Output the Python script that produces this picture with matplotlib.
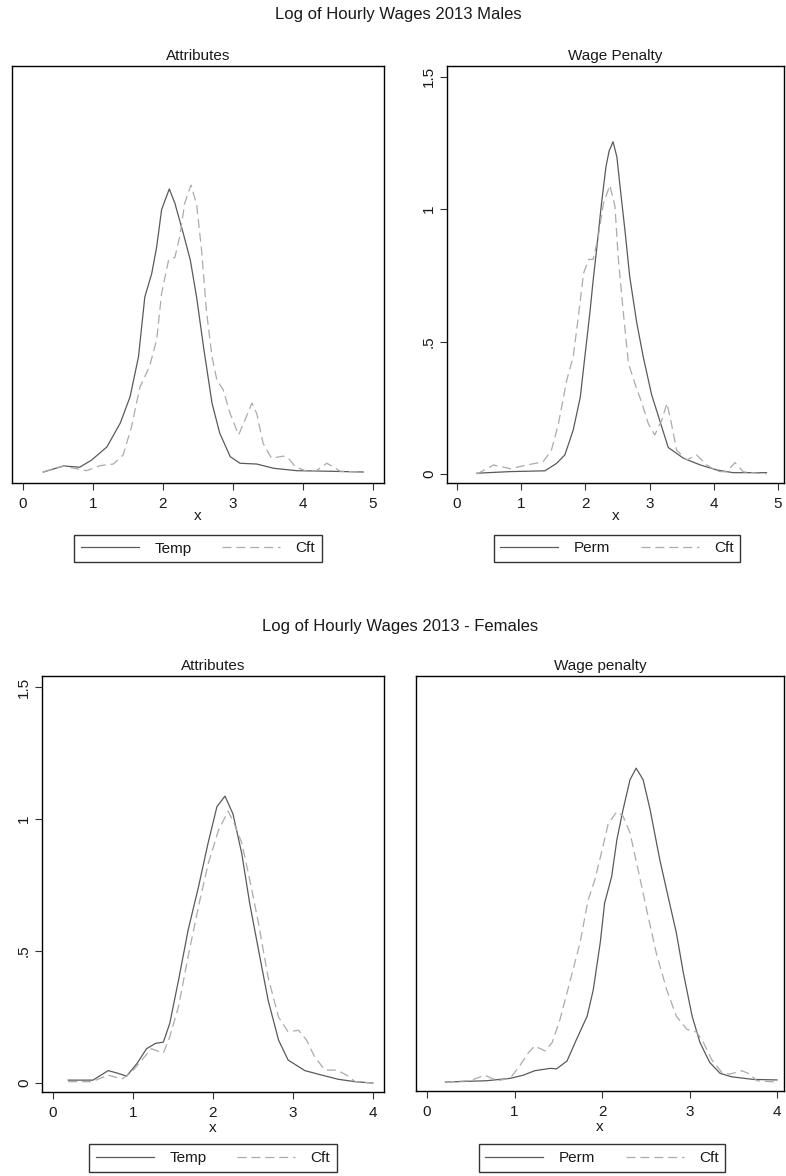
import matplotlib
matplotlib.use("Agg")
import matplotlib.pyplot as plt
from matplotlib.lines import Line2D

plt.rcParams['font.family'] = ['Liberation Sans', 'DejaVu Sans']
plt.rcParams['lines.scale_dashes'] = False

# ---------------- data ----------------
# Males, Attributes panel
m_att_temp_x = [0.29, 0.58, 0.81, 0.98, 1.20, 1.39, 1.53, 1.65, 1.74, 1.84, 1.91, 1.98, 2.09, 2.17,
                2.29, 2.39, 2.48, 2.58, 2.70, 2.81, 2.96, 3.10, 3.34, 3.58, 3.91, 4.34, 4.86]
m_att_temp_y = [0.0, 0.023, 0.018, 0.045, 0.095, 0.185, 0.284, 0.435, 0.66, 0.75, 0.85, 0.99, 1.068, 1.014,
                0.90, 0.80, 0.66, 0.47, 0.26, 0.147, 0.058, 0.033, 0.03, 0.014, 0.005, 0.003, 0.0]
m_att_cft_x = [0.29, 0.58, 0.91, 1.10, 1.29, 1.43, 1.55, 1.67, 1.81, 1.91, 1.98, 2.08, 2.17, 2.24, 2.31,
               2.40, 2.48, 2.55, 2.62, 2.70, 2.77, 2.86, 2.96, 3.08, 3.17, 3.27, 3.34, 3.43, 3.55, 3.72,
               3.79, 3.89, 4.05, 4.19, 4.34, 4.43, 4.53, 4.86]
m_att_cft_y = [0.0, 0.022, 0.005, 0.024, 0.03, 0.064, 0.17, 0.32, 0.40, 0.50, 0.674, 0.80, 0.81, 0.89, 1.014,
               1.083, 1.01, 0.84, 0.61, 0.435, 0.347, 0.31, 0.22, 0.14, 0.196, 0.26, 0.22, 0.108, 0.052, 0.06,
               0.052, 0.02, 0.003, 0.005, 0.033, 0.02, 0.003, 0.0]

# Males, Wage Penalty panel
m_pen_perm_x = [0.31, 0.83, 1.37, 1.55, 1.68, 1.81, 1.92, 1.99, 2.07, 2.12, 2.18, 2.25, 2.32, 2.37, 2.43,
                2.49, 2.54, 2.62, 2.69, 2.80, 2.90, 3.03, 3.16, 3.29, 3.53, 3.79, 4.05, 4.30, 4.82]
m_pen_perm_y = [0.003, 0.009, 0.012, 0.04, 0.072, 0.166, 0.29, 0.44, 0.61, 0.73, 0.86, 1.02, 1.16, 1.22, 1.254,
                1.197, 1.084, 0.91, 0.745, 0.57, 0.443, 0.30, 0.20, 0.10, 0.059, 0.034, 0.015, 0.005, 0.005]
m_pen_cft_x = [0.31, 0.57, 0.83, 1.09, 1.34, 1.47, 1.58, 1.71, 1.81, 1.89, 1.97, 2.05, 2.12, 2.20, 2.28,
               2.38, 2.46, 2.51, 2.59, 2.67, 2.77, 2.88, 2.98, 3.08, 3.19, 3.27, 3.34, 3.42, 3.58, 3.73,
               3.89, 4.05, 4.20, 4.33, 4.46, 4.82]
m_pen_cft_y = [0.0, 0.034, 0.02, 0.034, 0.046, 0.09, 0.19, 0.355, 0.443, 0.594, 0.757, 0.81, 0.81, 0.896, 1.02,
               1.09, 1.01, 0.82, 0.61, 0.418, 0.342, 0.267, 0.19, 0.147, 0.204, 0.267, 0.19, 0.09, 0.053, 0.072,
               0.034, 0.01, 0.008, 0.043, 0.008, 0.0]

# Females, Attributes panel
f_att_temp_x = [0.19, 0.50, 0.69, 0.80, 0.92, 1.05, 1.17, 1.28, 1.38, 1.46, 1.57, 1.69, 1.82, 1.94, 2.05,
                2.15, 2.25, 2.36, 2.46, 2.57, 2.69, 2.82, 2.94, 3.15, 3.36, 3.57, 3.78, 4.0]
f_att_temp_y = [0.011, 0.011, 0.047, 0.038, 0.026, 0.074, 0.13, 0.15, 0.155, 0.226, 0.39, 0.58, 0.744, 0.91, 1.047,
                1.087, 1.02, 0.87, 0.68, 0.504, 0.314, 0.163, 0.087, 0.047, 0.03, 0.014, 0.005, 0.0]
f_att_cft_x = [0.19, 0.49, 0.69, 0.86, 0.98, 1.11, 1.23, 1.32, 1.38, 1.46, 1.57, 1.69, 1.82, 1.94, 2.07,
               2.19, 2.27, 2.36, 2.46, 2.57, 2.69, 2.82, 2.94, 3.07, 3.17, 3.27, 3.40, 3.55, 3.67, 3.78, 4.0]
f_att_cft_y = [0.005, 0.005, 0.03, 0.015, 0.04, 0.087, 0.13, 0.12, 0.114, 0.175, 0.29, 0.48, 0.67, 0.83, 0.958,
               1.03, 0.98, 0.91, 0.77, 0.605, 0.40, 0.25, 0.194, 0.20, 0.163, 0.10, 0.049, 0.049, 0.03, 0.005, 0.0]

# Females, Wage penalty panel
f_pen_perm_x = [0.21, 0.68, 0.95, 1.10, 1.23, 1.41, 1.48, 1.60, 1.71, 1.83, 1.90, 1.98, 2.03, 2.11, 2.17,
                2.24, 2.32, 2.39, 2.47, 2.55, 2.66, 2.78, 2.85, 2.93, 3.03, 3.12, 3.23, 3.35, 3.48, 3.73, 4.0]
f_pen_perm_y = [0.0, 0.005, 0.014, 0.026, 0.043, 0.052, 0.05, 0.08, 0.163, 0.25, 0.35, 0.53, 0.68, 0.78, 0.92,
                1.034, 1.148, 1.192, 1.148, 1.034, 0.845, 0.668, 0.566, 0.414, 0.25, 0.15, 0.075, 0.033, 0.02, 0.01, 0.008]
f_pen_cft_x = [0.21, 0.49, 0.66, 0.80, 0.95, 1.06, 1.16, 1.23, 1.35, 1.43, 1.52, 1.63, 1.75, 1.84, 1.92,
               2.00, 2.07, 2.17, 2.24, 2.32, 2.42, 2.51, 2.62, 2.74, 2.85, 2.97, 3.08, 3.16, 3.25, 3.37,
               3.46, 3.60, 3.69, 3.77, 4.0]
f_pen_cft_y = [0.0, 0.005, 0.026, 0.005, 0.014, 0.062, 0.112, 0.137, 0.118, 0.15, 0.238, 0.377, 0.53, 0.69, 0.77,
               0.88, 0.98, 1.027, 1.01, 0.946, 0.795, 0.655, 0.49, 0.35, 0.25, 0.20, 0.19, 0.15, 0.087, 0.036,
               0.03, 0.043, 0.03, 0.005, 0.0]

male_title = "Log of Hourly Wages 2013 Males"
female_title = "Log of Hourly Wages 2013 - Females"
panel_titles = ["Attributes", "Wage Penalty", "Attributes", "Wage penalty"]
legend_labels = [["Temp", "Cft"], ["Perm", "Cft"], ["Temp", "Cft"], ["Perm", "Cft"]]
yticks = [0, 0.5, 1, 1.5]
yticklabels = ["0", ".5", "1", "1.5"]
xticks_m = [0, 1, 2, 3, 4, 5]
xticks_f = [0, 1, 2, 3, 4]

# ---------------- layout ----------------
W, H = 786, 1176
fig = plt.figure(figsize=(W / 100, H / 100), dpi=100)

def rect(l, r, t, b):
    return [l / W, 1 - b / H, (r - l) / W, (b - t) / H]

SOLID = '#5a5a5a'
DASH = '#ababab'
TXT = '#1a1a1a'
FS = 11

panels = [
    dict(rect=rect(12, 384, 66, 483), xlim=(-0.157, 5.157), ylim=(-0.0415, 1.532), xt=xticks_m, showy=False,
         a=(m_att_temp_x, m_att_temp_y), b=(m_att_cft_x, m_att_cft_y), leg=(198, 548.5), lp=-1),
    dict(rect=rect(447, 784, 66, 483), xlim=(-0.156, 5.093), ylim=(-0.034, 1.54), xt=xticks_m, showy=True,
         a=(m_pen_perm_x, m_pen_perm_y), b=(m_pen_cft_x, m_pen_cft_y), leg=(617, 548.5), lp=-1),
    dict(rect=rect(42, 384, 676, 1092), xlim=(-0.1375, 4.139), ylim=(-0.034, 1.542), xt=xticks_f, showy=True,
         a=(f_att_temp_x, f_att_temp_y), b=(f_att_cft_x, f_att_cft_y), leg=(213, 1158), lp=0.5),
    dict(rect=rect(416, 784, 676, 1091), xlim=(-0.126, 4.08), ylim=(-0.034, 1.542), xt=xticks_f, showy=False,
         a=(f_pen_perm_x, f_pen_perm_y), b=(f_pen_cft_x, f_pen_cft_y), leg=(602, 1158), lp=0.5),
]

for i, p in enumerate(panels):
    ax = fig.add_axes(p['rect'])
    ax.plot(p['a'][0], p['a'][1], color=SOLID, lw=0.9, solid_joinstyle='round')
    ax.plot(p['b'][0], p['b'][1], color=DASH, lw=0.9, dashes=(6.5, 3.5))
    ax.set_xlim(*p['xlim'])
    ax.set_ylim(*p['ylim'])
    ax.set_xticks(p['xt'])
    ax.set_xticklabels([str(v) for v in p['xt']], fontsize=FS, color=TXT)
    ax.tick_params(axis='x', direction='out', length=5, width=0.8, pad=5, color='#333333')
    if p['showy']:
        ax.set_yticks(yticks)
        ax.set_yticklabels(yticklabels, fontsize=FS, color=TXT, rotation=90, va='center')
        ax.tick_params(axis='y', direction='out', length=5, width=0.8, pad=3, color='#333333')
    else:
        ax.set_yticks([])
    for s in ax.spines.values():
        s.set_linewidth(1.0)
        s.set_color('black')
    ax.set_xlabel("x", fontsize=FS, color=TXT, labelpad=p['lp'])
    ax.set_title(panel_titles[i], fontsize=FS, color=TXT, pad=4.5)
    handles = [Line2D([], [], color=SOLID, lw=0.9),
               Line2D([], [], color=DASH, lw=0.9, dashes=(6.5, 3.5))]
    leg = fig.legend(handles, legend_labels[i], loc='center', ncol=2,
                     bbox_to_anchor=(p['leg'][0] / W, 1 - p['leg'][1] / H),
                     fontsize=FS, frameon=True, fancybox=False, edgecolor='black',
                     handlelength=3.8, handletextpad=1.0, columnspacing=2.0,
                     borderpad=0.45, borderaxespad=0)
    leg.get_frame().set_linewidth(1.0)
    for t in leg.get_texts():
        t.set_color(TXT)

fig.text(398.5 / W, 1 - 15 / H, male_title, ha='center', va='center', fontsize=12, color=TXT)
fig.text(400 / W, 1 - 626 / H, female_title, ha='center', va='center', fontsize=12, color=TXT)

fig.savefig("out.png", dpi=100, facecolor='white')
